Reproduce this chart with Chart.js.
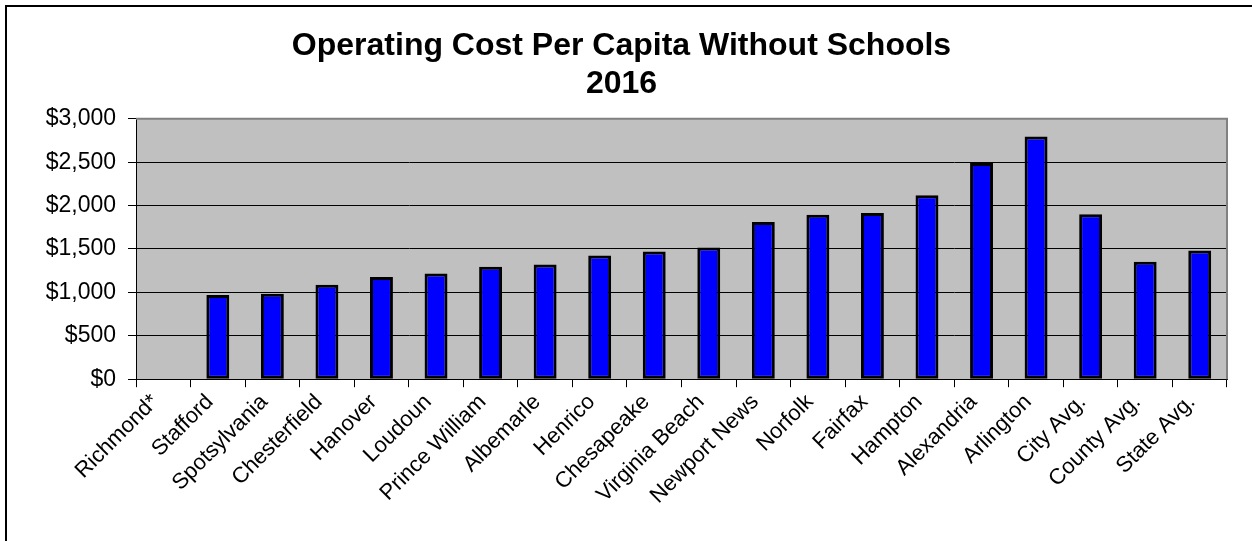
<!DOCTYPE html>
<html lang="en">
<head>
  <meta charset="utf-8">
  <title>Operating Cost Per Capita Without Schools 2016</title>
  <script src="https://cdn.jsdelivr.net/npm/chart.js@4.4.0/dist/chart.umd.min.js"></script>
  <style>
      html,body{margin:0;padding:0;background:#fff;overflow:hidden;}
      #wrap{position:relative;width:1252px;height:541px;}
      #frame{
          position:absolute;left:5px;top:5px;width:1400px;height:700px;
          border-left:2px solid #000;border-top:2px solid #000;
          pointer-events:none;
      }
  </style>
</head>
<body>
<div id="wrap">
  <canvas id="costChart"></canvas>
  <div id="frame"></div>
</div>

<script>
/* ---------------- data ---------------- */
const categories = [
  'Richmond*','Stafford','Spotsylvania','Chesterfield','Hanover',
  'Loudoun','Prince William','Albemarle','Henrico','Chesapeake',
  'Virginia Beach','Newport News','Norfolk','Fairfax','Hampton',
  'Alexandria','Arlington','City Avg.','County Avg.','State Avg.'
];
const costPerCapita = [
  null, 970, 984, 1088, 1176,
  1218, 1295, 1322, 1426, 1472,
  1518, 1811, 1895, 1915, 2118,
  2491, 2795, 1899, 1353, 1483
];
const yTicks = [0, 500, 1000, 1500, 2000, 2500, 3000];

const FONT = "'Liberation Sans', Arial, Helvetica, sans-serif";

/* grey plot area + grey top/right frame */
const plotBg = {
  id:'plotBg',
  beforeDraw(chart){
    const {ctx, chartArea:a} = chart;
    ctx.save();
    ctx.fillStyle = '#c0c0c0';
    ctx.fillRect(a.left, a.top, a.right - a.left, a.bottom - a.top);
    ctx.restore();
  },
  afterDatasetsDraw(chart){
    const {ctx, chartArea:a} = chart;
    ctx.save();
    ctx.strokeStyle = '#808080';
    ctx.lineWidth = 2;
    ctx.beginPath();
    ctx.moveTo(a.left, a.top);
    ctx.lineTo(a.right, a.top);
    ctx.lineTo(a.right, a.bottom);
    ctx.stroke();
    ctx.restore();
  }
};

new Chart(document.getElementById('costChart'), {
  type:'bar',
  data:{
    labels:categories,
    datasets:[{
      data:costPerCapita,
      backgroundColor:'#0000ff',
      borderColor:'#000',
      borderWidth:3,
      borderSkipped:false,
      categoryPercentage:1,
      barPercentage:0.42
    }]
  },
  options:{
    responsive:true,
    maintainAspectRatio:false,
    animation:false,
    layout:{padding:{left:16, right:25, top:6, bottom:30}},
    plugins:{
      legend:{display:false},
      tooltip:{enabled:false},
      title:{
        display:true,
        text:['Operating Cost Per Capita Without Schools','2016'],
        color:'#000',
        font:{family:FONT, size:32, weight:'bold', lineHeight:1.2},
        padding:{top:21, bottom:15}
      }
    },
    scales:{
      x:{
        grid:{display:true, drawOnChartArea:false, drawTicks:true, tickLength:8, color:'#000', offset:true},
        border:{display:true, color:'#000', width:1},
        ticks:{
          autoSkip:false, minRotation:45, maxRotation:45, labelOffset:-8,
          color:'#000', font:{family:FONT, size:22}, padding:2
        }
      },
      y:{
        min:0, max:3000,
        afterFit(axis){ axis.width = 120; },
        afterBuildTicks(axis){ axis.ticks = yTicks.map(v => ({value:v})); },
        grid:{color:'#000', tickColor:'#000', tickLength:8, lineWidth:1},
        border:{display:true, color:'#000', width:1},
        ticks:{
          color:'#000', font:{family:FONT, size:23}, padding:12,
          callback:v => '$' + v.toLocaleString('en-US')
        }
      }
    }
  },
  plugins:[plotBg]
});
</script>
</body>
</html>
